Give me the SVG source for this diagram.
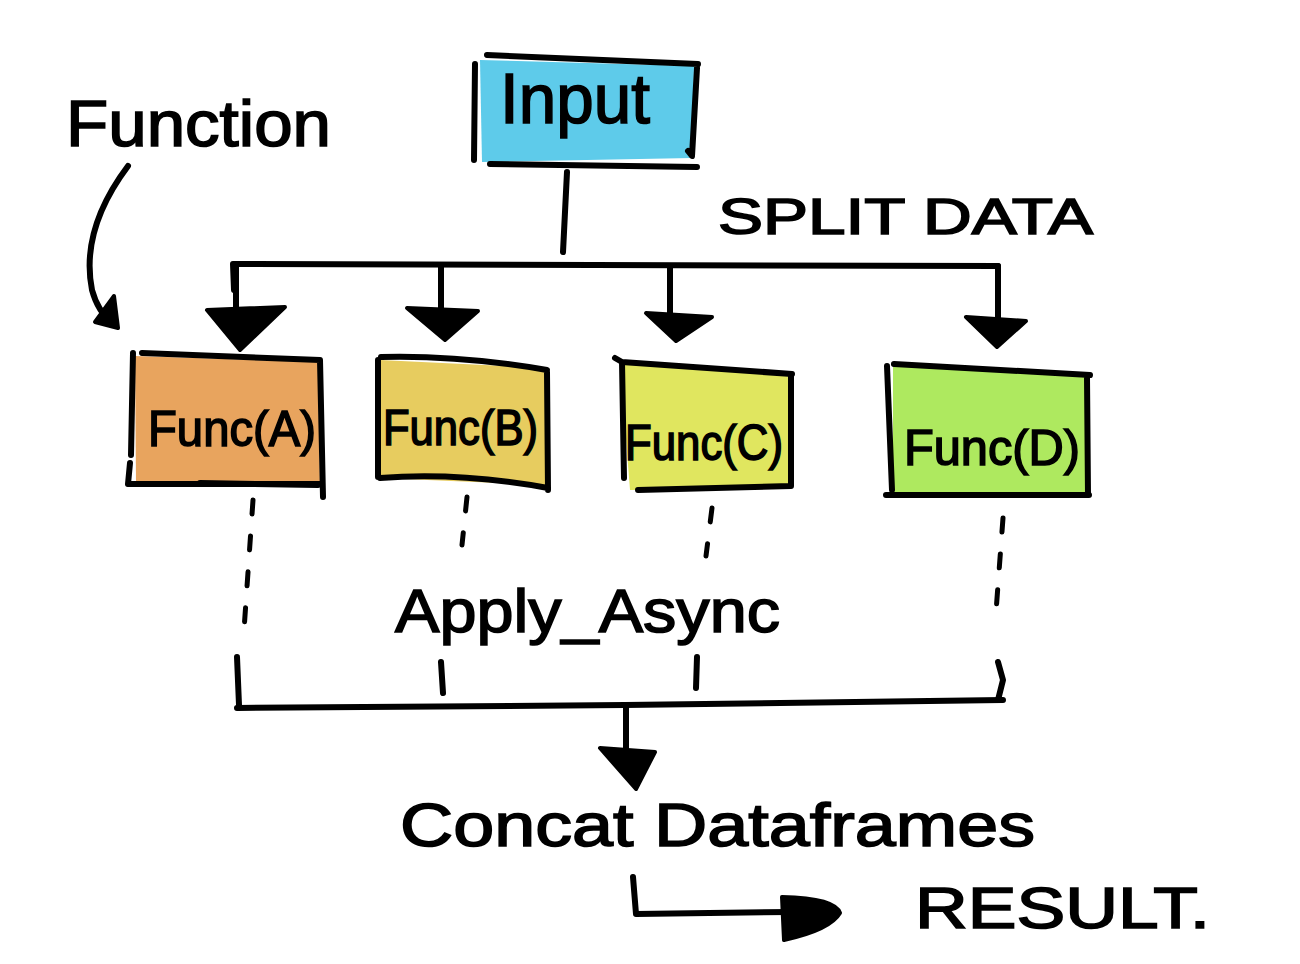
<svg xmlns="http://www.w3.org/2000/svg" width="1300" height="964" viewBox="0 0 1300 964">
<defs>
<style>
.ln{fill:none;stroke:#000;stroke-width:6;stroke-linecap:round;stroke-linejoin:round}
.dl{fill:none;stroke:#000;stroke-width:5;stroke-linecap:round;stroke-dasharray:14 22}
.hd{fill:#000;stroke:#000;stroke-width:4;stroke-linejoin:round}
.tx{font-family:"Liberation Sans",Arial,sans-serif;fill:#000;stroke:#000;stroke-width:1.6}
</style>
</defs>
<rect width="1300" height="964" fill="#fff"/>
<g id="input">
<polygon points="480,60 694,66 692,158 482,162" fill="#5ecbea"/>
<path class="ln" d="M487,55 L698,64 M475,64 L474,160 M697,68 L692,156 L688,151 M490,164 L697,167"/>
<text class="tx" x="500" y="123" font-size="70" textLength="150" lengthAdjust="spacingAndGlyphs">Input</text>
</g>
<g id="function-label">
<text class="tx" x="66" y="146" font-size="64" textLength="265" lengthAdjust="spacingAndGlyphs">Function</text>
</g>
<g id="split-label">
<text class="tx" x="718" y="234" font-size="50" textLength="375" lengthAdjust="spacingAndGlyphs">SPLIT DATA</text>
</g>
<g id="funcA">
<polygon points="135,356 318,362 320,484 136,484" fill="#e8a45e"/>
<path class="ln" d="M133,353 L131,455 M130,463 L128,484 L322,484 M142,353 L320,360 L323,497 M200,483 L318,485"/>
<text class="tx" x="148" y="446" font-size="50" textLength="168" lengthAdjust="spacingAndGlyphs">Func(A)</text>
</g>
<g id="funcB">
<polygon points="380,360 546,368 546,485 380,478" fill="#e7cc5f"/>
<path class="ln" d="M378,360 L378,477 M381,357 Q460,355 547,370 M547,372 L548,490 M380,478 Q460,472 548,488"/>
<text class="tx" x="383" y="445" font-size="50" textLength="155" lengthAdjust="spacingAndGlyphs">Func(B)</text>
</g>
<g id="funcC">
<polygon points="620,362 792,374 792,487 630,490" fill="#e0e65f"/>
<path class="ln" d="M615,358 L622,362 L624,478 M622,362 L792,374 M791,376 L791,486 M638,490 L791,486"/>
<text class="tx" x="625" y="460" font-size="50" textLength="158" lengthAdjust="spacingAndGlyphs">Func(C)</text>
</g>
<g id="funcD">
<polygon points="893,366 1087,375 1087,493 893,493" fill="#aee95f"/>
<path class="ln" d="M887,366 L892,490 M894,364 L1090,375 M1087,377 L1088,495 M886,495 L1089,495"/>
<text class="tx" x="904" y="465" font-size="50" textLength="176" lengthAdjust="spacingAndGlyphs">Func(D)</text>
</g>
<g id="apply-label">
<text class="tx" x="395" y="632" font-size="62" textLength="385" lengthAdjust="spacingAndGlyphs">Apply_Async</text>
</g>
<g id="concat-label">
<text class="tx" x="400" y="846" font-size="62" textLength="635" lengthAdjust="spacingAndGlyphs">Concat Dataframes</text>
</g>
<g id="result-label">
<text class="tx" x="915" y="928" font-size="58" textLength="295" lengthAdjust="spacingAndGlyphs">RESULT.</text>
</g>
<g id="connectors">
<path class="ln" d="M128,166 Q80,230 92,290 Q98,312 112,322"/>
<path class="hd" d="M95,322 L118,328 L114,296 Z"/>
<path class="ln" d="M567,172 L563,252"/>
<path class="ln" d="M234,290 L233,264 L998,266 L998,300"/>
<path class="ln" d="M236,266 L236,310 M441,266 L441,308 M670,268 L670,315 M998,266 L998,320"/>
<path class="hd" d="M207,310 L285,307 L240,350 Z"/>
<path class="hd" d="M407,308 L478,311 L445,340 Z"/>
<path class="hd" d="M646,313 L712,317 L676,341 Z"/>
<path class="hd" d="M966,317 L1026,321 L997,347 Z"/>
<path class="dl" d="M253,500 L244,630"/>
<path class="dl" d="M467,497 L462,545"/>
<path class="dl" d="M712,508 L706,556"/>
<path class="dl" d="M1003,518 L996,612"/>
<path class="ln" d="M237,657 L239,705 M441,662 L443,693 M697,657 L696,688 M998,662 L1003,680 L998,700"/>
<path class="ln" d="M237,708 L625,705 L1003,700"/>
<path class="ln" d="M626,707 L626,752"/>
<path class="hd" d="M600,748 L655,752 L636,789 Z"/>
<path class="ln" d="M633,877 L636,914 L790,912"/>
<path class="hd" d="M782,897 Q835,898 840,913 Q830,930 784,940 Z"/>
</g>
</svg>
